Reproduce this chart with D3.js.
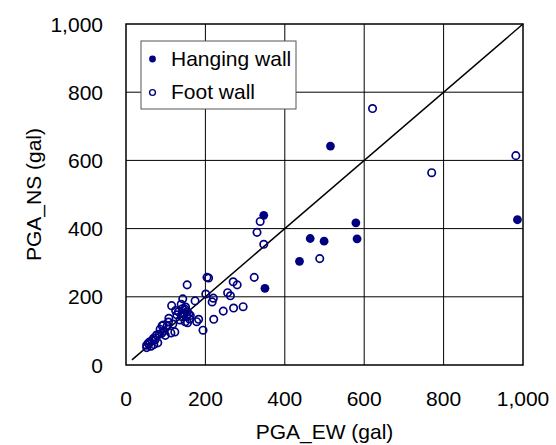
<!DOCTYPE html>
<html>
<head>
<meta charset="utf-8">
<script src="https://cdn.jsdelivr.net/npm/d3@7"></script>
<style>
  body { margin: 0; background: #fff; }
  text { font-family: "Liberation Sans", Arial, sans-serif; fill: #000; }
</style>
</head>
<body>
<svg id="chart" width="556" height="445"></svg>
<script>
// PGA_EW, PGA_NS (gal)
var hangingWall = [
  [515, 642], [986, 426], [579, 417], [582, 370], [464, 371],
  [499, 363], [437, 304], [347, 439], [350, 225]
];

var footWall = [
  [621, 752], [770, 564], [982, 614], [488, 312], [338, 421], [330, 389],
  [347, 354], [323, 257], [204, 257], [208, 255], [154, 235], [270, 244],
  [280, 235], [201, 208], [256, 212], [263, 203], [220, 196], [217, 185],
  [174, 188], [143, 194], [139, 178], [115, 174], [295, 171], [271, 167],
  [245, 158], [221, 134], [183, 134], [178, 127], [194, 102], [149, 163],
  [154, 156], [144, 152], [132, 156], [128, 147], [140, 142], [153, 142],
  [149, 127], [136, 132], [155, 124], [146, 150], [158, 150], [160, 135],
  [108, 137], [107, 126], [104, 115], [91, 115], [123, 97], [113, 94],
  [99, 87], [84, 90], [94, 117], [90, 93], [77, 88], [69, 78],
  [60, 68], [56, 64], [52, 58], [73, 73], [66, 72], [63, 55],
  [80, 65], [70, 60], [75, 80], [52, 51], [58, 62], [86, 105],
  [142, 165], [118, 120], [125, 160], [150, 170], [162, 145], [96, 100]
];

var ticks = [0, 200, 400, 600, 800, 1000];
var oneToOne = [[15, 15], [1000, 1000]];
var legendLabels = ["Hanging wall", "Foot wall"];

function main() {
  var svg = d3.select("#chart");
  var left = 126, right = 523, top = 24, bottom = 365;
  var navy = "#000080";

  var x = d3.scaleLinear().domain([0, 1000]).range([left, right]);
  var y = d3.scaleLinear().domain([0, 1000]).range([bottom, top]);
  var fmt = d3.format(",");

  // gridlines
  svg.append("g").selectAll("line.v")
    .data(ticks.slice(1, -1))
    .enter().append("line")
    .attr("x1", function(d) { return x(d); })
    .attr("x2", function(d) { return x(d); })
    .attr("y1", top).attr("y2", bottom)
    .attr("stroke", "#000").attr("stroke-width", 1);

  svg.append("g").selectAll("line.h")
    .data(ticks.slice(1, -1))
    .enter().append("line")
    .attr("x1", left).attr("x2", right)
    .attr("y1", function(d) { return y(d); })
    .attr("y2", function(d) { return y(d); })
    .attr("stroke", "#000").attr("stroke-width", 1);

  // 1:1 line
  svg.append("path")
    .datum(oneToOne)
    .attr("d", d3.line().x(function(d) { return x(d[0]); }).y(function(d) { return y(d[1]); }))
    .attr("stroke", "#000").attr("stroke-width", 1.5).attr("fill", "none");

  // plot frame
  svg.append("rect")
    .attr("x", left).attr("y", top)
    .attr("width", right - left).attr("height", bottom - top)
    .attr("fill", "none").attr("stroke", "#000").attr("stroke-width", 1.5);

  // tick labels
  svg.append("g").selectAll("text")
    .data(ticks)
    .enter().append("text")
    .attr("x", function(d) { return x(d); })
    .attr("y", 406)
    .attr("text-anchor", "middle")
    .style("font-size", "21px")
    .text(function(d) { return fmt(d); });

  svg.append("g").selectAll("text")
    .data(ticks)
    .enter().append("text")
    .attr("x", 103)
    .attr("y", function(d) { return y(d) + 7.5; })
    .attr("text-anchor", "end")
    .style("font-size", "21px")
    .text(function(d) { return fmt(d); });

  // axis titles
  svg.append("text")
    .attr("x", (left + right) / 2).attr("y", 439)
    .attr("text-anchor", "middle")
    .style("font-size", "21px")
    .text("PGA_EW (gal)");

  svg.append("text")
    .attr("transform", "translate(41," + ((top + bottom) / 2) + ") rotate(-90)")
    .attr("text-anchor", "middle")
    .style("font-size", "21px")
    .text("PGA_NS (gal)");

  // points
  svg.append("g").selectAll("circle")
    .data(footWall)
    .enter().append("circle")
    .attr("cx", function(d) { return x(d[0]); })
    .attr("cy", function(d) { return y(d[1]); })
    .attr("r", 3.7)
    .attr("fill", "none")
    .attr("stroke", navy).attr("stroke-width", 1.7);

  svg.append("g").selectAll("circle")
    .data(hangingWall)
    .enter().append("circle")
    .attr("cx", function(d) { return x(d[0]); })
    .attr("cy", function(d) { return y(d[1]); })
    .attr("r", 4.4)
    .attr("fill", navy);

  // legend
  var lg = svg.append("g");
  lg.append("rect")
    .attr("x", 141).attr("y", 41)
    .attr("width", 155).attr("height", 68)
    .attr("fill", "#fff").attr("stroke", "#555").attr("stroke-width", 1);

  lg.selectAll("text")
    .data(legendLabels)
    .enter().append("text")
    .attr("x", 171)
    .attr("y", function(d, i) { return 66 + i * 33; })
    .style("font-size", "21px")
    .text(function(d) { return d; });

  lg.append("circle").attr("cx", 152.5).attr("cy", 59).attr("r", 3.4).attr("fill", navy);
  lg.append("circle").attr("cx", 152.5).attr("cy", 92.5).attr("r", 2.9)
    .attr("fill", "#fff").attr("stroke", navy).attr("stroke-width", 1.4);
}

main();
</script>
</body>
</html>
